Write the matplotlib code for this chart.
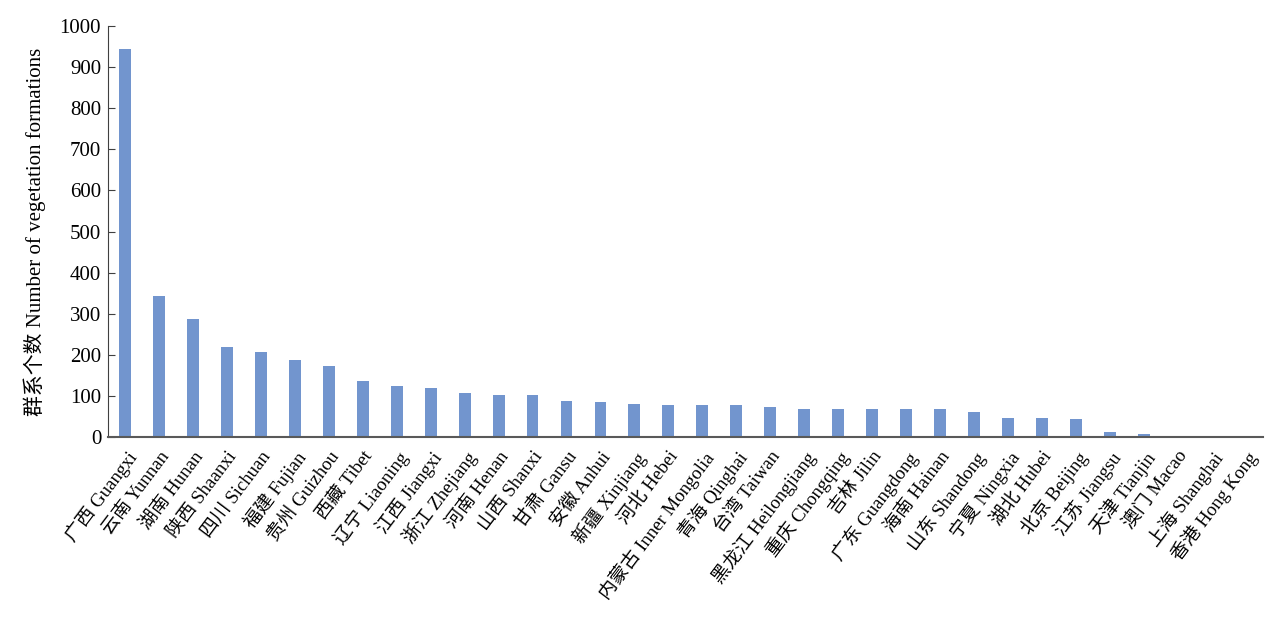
import matplotlib
matplotlib.use("Agg")
from matplotlib import pyplot as plt

plt.rcParams['font.family'] = ['Liberation Serif', 'Noto Sans CJK SC', 'DejaVu Sans']

# provinces, sorted by number of vegetation formations
provinces = ["广西 Guangxi", "云南 Yunnan", "湖南 Hunan", "陕西 Shaanxi", "四川 Sichuan",
             "福建 Fujian", "贵州 Guizhou", "西藏 Tibet", "辽宁 Liaoning", "江西 Jiangxi",
             "浙江 Zhejiang", "河南 Henan", "山西 Shanxi", "甘肃 Gansu", "安徽 Anhui",
             "新疆 Xinjiang", "河北 Hebei", "内蒙古 Inner Mongolia", "青海 Qinghai",
             "台湾 Taiwan", "黑龙江 Heilongjiang", "重庆 Chongqing", "吉林 Jilin",
             "广东 Guangdong", "海南 Hainan", "山东 Shandong", "宁夏 Ningxia", "湖北 Hubei",
             "北京 Beijing", "江苏 Jiangsu", "天津 Tianjin", "澳门 Macao", "上海 Shanghai",
             "香港 Hong Kong"]
counts = [945, 343, 287, 218, 206, 188, 172, 137, 123, 119,
          107, 103, 103, 88, 84, 80, 77, 77, 77, 73,
          69, 69, 69, 69, 69, 62, 46, 46, 43, 11,
          8, 0, 0, 0]
yticks = [0, 100, 200, 300, 400, 500, 600, 700, 800, 900, 1000]

fig = plt.figure(figsize=(12.87, 6.19), dpi=100)
ax = fig.add_axes([0.084, 0.294, 0.897, 0.664])

ax.bar(range(len(provinces)), counts, width=0.35, color="#7295ce")

ax.set_xlim(-0.5, len(provinces) - 0.5)
ax.set_ylim(0, 1000)
ax.set_yticks(yticks)
ax.set_xticks(range(len(provinces)))
ax.set_xticklabels(provinces, rotation=53, ha="right", rotation_mode="anchor", fontsize=13.5)
ax.tick_params(axis="x", length=0, pad=8)
ax.tick_params(axis="y", direction="in", length=5, labelsize=15, color="#404040", pad=5)
ax.set_ylabel("群系个数 Number of vegetation formations", fontsize=15, labelpad=10)

for side in ["top", "right"]:
    ax.spines[side].set_visible(False)
ax.spines["left"].set_color("#404040")
ax.spines["bottom"].set_color("#595959")
ax.spines["bottom"].set_linewidth(1.5)

fig.savefig("out.png", dpi=100)
